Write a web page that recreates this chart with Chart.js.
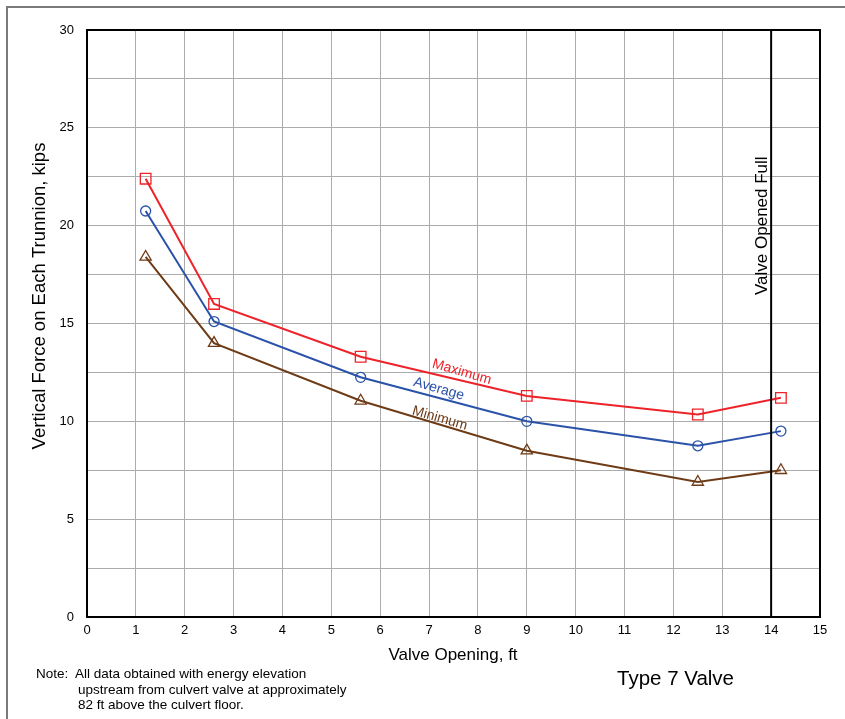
<!DOCTYPE html>
<html>
<head>
<meta charset="utf-8">
<script src="https://cdn.jsdelivr.net/npm/chart.js@4.4.1/dist/chart.umd.min.js"></script>
<style>
  html, body { margin: 0; padding: 0; background: #fff; }
  #wrap { position: relative; width: 845px; height: 719px; overflow: hidden; }
  #frame { position: absolute; left: 6px; top: 6px; width: 900px; height: 900px; border-top: 2px solid #7a7a7a; border-left: 2px solid #7a7a7a; }
  canvas { position: absolute; left: 0; top: 0; }
  .note { position: absolute; left: 36px; top: 666px; font: 13.5px "Liberation Sans", Arial, sans-serif; color: #000; line-height: 15.5px; }
  .note div.ind { padding-left: 42px; }
  .type { position: absolute; left: 617px; top: 666px; font: 20.5px "Liberation Sans", Arial, sans-serif; color: #000; }
</style>
</head>
<body>
<div id="wrap">
  <div id="frame"></div>
  <canvas id="c" width="845" height="719"></canvas>
  <div class="note">
    <div>Note:&nbsp; All data obtained with energy elevation</div>
    <div class="ind">upstream from culvert valve at approximately</div>
    <div class="ind">82 ft above the culvert floor.</div>
  </div>
  <div class="type">Type 7 Valve</div>
</div>
<script>
const valveOpening = [1.2, 2.6, 5.6, 9.0, 12.5, 14.2];
const maximumForce = [22.4, 16.0, 13.3, 11.3, 10.35, 11.2];
const averageForce = [20.75, 15.1, 12.25, 10.0, 8.75, 9.5];
const minimumForce = [18.4, 14.0, 11.05, 8.5, 6.9, 7.5];
const xTicks = [0,1,2,3,4,5,6,7,8,9,10,11,12,13,14,15];
const yTickLabels = [0, 5, 10, 15, 20, 25, 30];
const fullOpenX = 14;

const FONT = '"Liberation Sans", Arial, sans-serif';
const RED = '#ee2229', BLUE = '#2a52a8', BROWN = '#6e3b17';

function pts(ys) { return valveOpening.map((x, i) => ({ x: x, y: ys[i] })); }

const labelPlugin = {
  id: 'labels',
  afterDatasetsDraw(chart) {
    const ctx = chart.ctx, xs = chart.scales.x, ys = chart.scales.y, a = chart.chartArea;
    ctx.save();
    ctx.strokeStyle = '#000'; ctx.lineWidth = 2;
    ctx.strokeRect(a.left, a.top, a.right - a.left, a.bottom - a.top);
    const px = xs.getPixelForValue(fullOpenX);
    ctx.beginPath(); ctx.moveTo(px, a.top); ctx.lineTo(px, a.bottom); ctx.stroke();
    ctx.save();
    ctx.translate(px - 9, ys.getPixelForValue(20.0));
    ctx.rotate(-Math.PI / 2);
    ctx.font = '17px ' + FONT; ctx.fillStyle = '#000';
    ctx.textAlign = 'center'; ctx.textBaseline = 'middle';
    ctx.fillText('Valve Opened Full', 0, 0);
    ctx.restore();
    const lab = [
      ['Maximum', 7.67, 12.52, RED],
      ['Average', 7.2, 11.65, BLUE],
      ['Minimum', 7.22, 10.15, BROWN]
    ];
    lab.forEach(l => {
      ctx.save();
      ctx.translate(xs.getPixelForValue(l[1]), ys.getPixelForValue(l[2]));
      ctx.rotate(16 * Math.PI / 180);
      ctx.font = '14px ' + FONT; ctx.fillStyle = l[3];
      ctx.textAlign = 'center'; ctx.textBaseline = 'middle';
      ctx.fillText(l[0], 0, 0);
      ctx.restore();
    });
    ctx.fillStyle = '#000';
    ctx.textAlign = 'center'; ctx.textBaseline = 'middle';
    ctx.font = '17px ' + FONT;
    ctx.fillText('Valve Opening, ft', 453, 655);
    ctx.save();
    ctx.translate(40, 296);
    ctx.rotate(-Math.PI / 2);
    ctx.font = '18.5px ' + FONT;
    ctx.fillText('Vertical Force on Each Trunnion, kips', 0, 0);
    ctx.restore();
    ctx.restore();
  }
};

const ds = (label, ys, color, style, r) => ({
  label: label, data: pts(ys), showLine: true,
  borderColor: color, borderWidth: 2, backgroundColor: 'rgba(0,0,0,0)',
  pointStyle: style, pointRadius: r, pointBorderWidth: 1.3,
  pointBorderColor: color, pointBackgroundColor: 'rgba(0,0,0,0)', tension: 0
});

new Chart(document.getElementById('c'), {
  type: 'scatter',
  data: {
    datasets: [
      ds('Maximum', maximumForce, RED, 'rect', 7.5),
      ds('Average', averageForce, BLUE, 'circle', 5),
      ds('Minimum', minimumForce, BROWN, 'triangle', 6.5)
    ]
  },
  options: {
    responsive: false, animation: false,
    layout: { padding: { left: 0, top: 30, right: 25, bottom: 0 } },
    plugins: { legend: { display: false }, tooltip: { enabled: false } },
    scales: {
      x: {
        type: 'linear', min: 0, max: 15,
        afterFit(s) { s.height = 102; },
        afterBuildTicks(s) { s.ticks = xTicks.map(v => ({ value: v })); },
        grid: { color: '#ababab', lineWidth: 1, drawTicks: false },
        border: { color: '#000', width: 2 },
        ticks: { font: { family: FONT, size: 13 }, color: '#000', padding: 6, maxRotation: 0 }
      },
      y: {
        type: 'linear', min: 0, max: 30,
        afterFit(s) { s.width = 87; },
        ticks: {
          stepSize: 2.5, font: { family: FONT, size: 13 }, color: '#000', padding: 13,
          callback: v => yTickLabels.includes(v) ? String(v) : ''
        },
        grid: { color: '#ababab', lineWidth: 1, drawTicks: false },
        border: { color: '#000', width: 2 }
      }
    }
  },
  plugins: [labelPlugin]
});
</script>
</body>
</html>
